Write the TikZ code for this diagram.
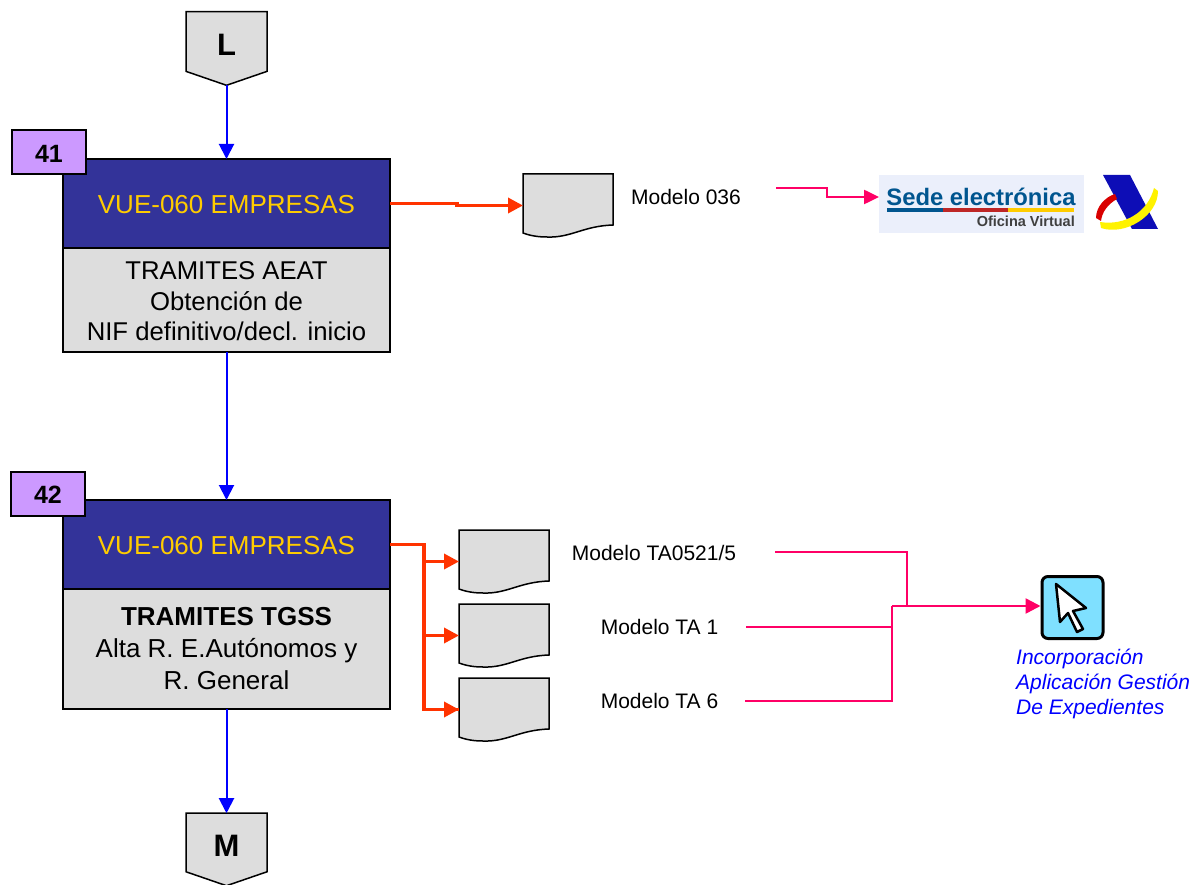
\documentclass[tikz,border=0pt]{standalone}
\usepackage{fontspec}
\setmainfont{Liberation Sans}
\usepackage{xcolor}
\usepackage{tikz}
\usetikzlibrary{shapes.symbols, positioning, arrows.meta}

\definecolor{navyhead}{HTML}{333399}
\definecolor{goldtext}{HTML}{FFCC00}
\definecolor{sheetgray}{HTML}{DDDDDD}
\definecolor{taglilac}{HTML}{CC99FF}
\definecolor{redline}{HTML}{FF3300}
\definecolor{pinkline}{HTML}{FF0066}
\definecolor{cursorcyan}{HTML}{7FE0FF}
\definecolor{logoblue}{HTML}{00558F}
\definecolor{logobg}{HTML}{EBEFFB}

\tikzset{
    headbox/.style={draw=black, line width=1.5pt, fill=navyhead, text=goldtext, minimum width=327pt, minimum height=89pt, outer sep=0pt, inner sep=0pt, font=\fontsize{26}{30}\selectfont},
    bodybox/.style={draw=black, line width=1.5pt, fill=sheetgray, minimum width=327pt, outer sep=0pt, inner sep=0pt, align=center},
    tagbox/.style={draw=black, line width=2pt, fill=taglilac, minimum width=74pt, minimum height=44pt, outer sep=0pt, inner sep=0pt, font=\fontsize{25}{30}\selectfont\bfseries},
    pagetag/.style={signal, signal to=south, signal pointer angle=142, draw=black, line width=1.5pt, fill=sheetgray, minimum width=81pt, minimum height=63pt, outer sep=0pt, inner sep=0pt, font=\fontsize{31}{36}\selectfont\bfseries},
    docnode/.style={minimum width=90pt, minimum height=63pt, outer sep=0pt, inner sep=0pt},
    docline/.style={draw=black, line width=1.5pt, fill=sheetgray},
    modelolabel/.style={font=\fontsize{21}{24}\selectfont, inner sep=0pt},
    blueflow/.style={draw=blue, line width=2pt, -{Triangle[length=15pt, width=15pt]}},
    redflow/.style={draw=redline, line width=3.5pt},
    pinkflow/.style={draw=pinkline, line width=2.5pt},
}

% moves a text down and leaves the size of its box as it was
\newcommand{\dropby}[2]{\raisebox{-#1}[\height][\depth]{#2}}

% one sheet symbol, the wavy edge is drawn from the node corners
\newcommand{\docsheet}[3]{
    \node[docnode] (#1) at (#2,#3) {};
    \draw[docline] (#1.north west) -- (#1.north east) -- ++(0,51)
        .. controls ++(-30,1) and ++(24,1) .. ++(-66,12)
        .. controls ++(-8,0) and ++(8,3) .. ++(-24,-4) -- cycle;
}

\begin{document}
\begin{tikzpicture}[x=1pt, y=-1pt]
    \useasboundingbox (0,0) rectangle (1194,885);

    % Page connector L
    \node[pagetag] (tagL) at (226.5,41.5) {\dropby{3pt}{L}};

    % Step 41
    \node[headbox] (head41) at (226.5,203.5) {\dropby{1pt}{VUE-060 EMPRESAS}};
    \node[bodybox, minimum height=104pt, below=0pt of head41, font=\fontsize{25.7}{30.5}\selectfont] (body41) {\dropby{1.5pt}{TRAMITES AEAT}\\\dropby{1.5pt}{Obtención de}\\\dropby{1.5pt}{NIF definitivo/decl. inicio}};
    \node[tagbox] (tag41) at (49,152) {\dropby{1.5pt}{41}};

    % Step 42
    \node[headbox] (head42) at (226.5,544.5) {\dropby{1.5pt}{VUE-060 EMPRESAS}};
    \node[bodybox, minimum height=120pt, below=0pt of head42, font=\fontsize{26}{32}\selectfont] (body42) {\textbf{TRAMITES TGSS}\\Alta R. E.Autónomos y\\R. General};
    \node[tagbox] (tag42) at (48,493.5) {\dropby{1pt}{42}};

    % Page connector M
    \node[pagetag] (tagM) at (226.5,842.5) {\dropby{3pt}{M}};

    % Main flow
    \draw[blueflow] (tagL.south) -- (head41.north);
    \draw[blueflow] (body41.south) -- (head42.north);
    \draw[blueflow] (body42.south) -- (tagM.north);

    % Sheets
    \docsheet{doc036}{568}{205.5}
    \docsheet{docTAa}{504}{561.5}
    \docsheet{docTAb}{504}{635.5}
    \docsheet{docTAc}{504}{709.5}

    % Red branches to the sheets
    \coordinate (redA) at (457,203.5);
    \coordinate (redB) at (424,544.5);
    \draw[redflow, -{Triangle[length=15pt, width=15pt]}] (head41.east) -- (redA) |- (doc036.west);
    \draw[redflow] (head42.east) -| (redB) |- (docTAc.west);
    \draw[redflow, -{Triangle[length=15pt, width=15pt]}] (redB |- docTAc.west) -- (docTAc.west);
    \draw[redflow, -{Triangle[length=15pt, width=15pt]}] (redB |- docTAb.west) -- (docTAb.west);
    \draw[redflow, -{Triangle[length=15pt, width=15pt]}] (redB |- docTAa.west) -- (docTAa.west);

    % Model labels
    \node[modelolabel] (lab036) at (686,196.5) {Modelo 036};
    \node[modelolabel] (labTAa) at (654,553) {Modelo TA0521/5};
    \node[modelolabel] (labTAb) at (659.5,627) {Modelo TA 1};
    \node[modelolabel] (labTAc) at (659.5,701) {Modelo TA 6};

    % Sede electronica logo
    \node[fill=logobg, minimum width=205pt, minimum height=58pt, outer sep=0pt, inner sep=0pt] (sedelogo) at (981.5,204) {};
    \node[text=logoblue, inner sep=0pt, font=\fontsize{23.8}{28}\selectfont\bfseries] (sedetext) at (981,197) {Sede electrónica};
    \node[text=black!75, anchor=east, inner sep=0pt, font=\fontsize{14.5}{16}\selectfont\bfseries] (sedeoficina) at (1075,221.5) {Oficina Virtual};
    \fill[logoblue] (887,208.5) rectangle (943,212);
    \fill[red!70!black!85] (943,208.5) rectangle (1008,212);
    \fill[goldtext] (1008,208.5) rectangle (1074,212);

    % AEAT emblem
    \fill[blue!70!black!95] (1103,175) -- (1130,175) -- (1158,229) -- (1132,229) -- cycle;
    \fill[red!85!black] (1115,194) .. controls (1105,197) and (1096,207) .. (1096,218) -- (1101,221) .. controls (1102,212) and (1108,204) .. (1117,199) -- cycle;
    \fill[yellow] (1100,222) .. controls (1125,226) and (1148,212) .. (1154,188) -- (1158,191) .. controls (1158,216) and (1125,236) .. (1101,228) -- cycle;

    % Cursor button
    \node[draw=black, line width=3pt, fill=cursorcyan, rounded corners=6pt, minimum width=61pt, minimum height=62pt, outer sep=1.5pt, inner sep=0pt] (cursorbtn) at (1072.5,607.5) {};
    \draw[black, fill=white, line width=2.5pt, line join=round] (1056,584) -- (1086,608) -- (1073,611) -- (1083,629) -- (1077,632) -- (1068,613) -- (1060,622) -- cycle;
    \node[text=blue, anchor=north west, align=left, inner sep=0pt, font=\fontsize{21}{25}\selectfont\itshape] (cursortext) at (1016,649) {Incorporación\\Aplicación Gestión\\De Expedientes};

    % Pink lines
    \coordinate (pink036) at (776,188);
    \coordinate (sedein) at (sedelogo.west |- 0,197);
    \coordinate (pinkTAa) at (775,552);
    \coordinate (pinkTAb) at (746,627);
    \coordinate (pinkTAc) at (745,701);
    \coordinate (pinkJoin) at (892,606);
    \draw[pinkflow, -{Triangle[length=15pt, width=14pt]}] (pink036) -- (827,188) -- (827,197) -- (sedein);
    \draw[pinkflow, -{Triangle[length=15pt, width=15pt]}] (pinkTAa) -| (907,606) -- (cursorbtn.west |- pinkJoin);
    \draw[pinkflow] (pinkJoin) -- (907,606);
    \draw[pinkflow] (pinkTAb) -| (pinkJoin);
    \draw[pinkflow] (pinkTAc) -| (pinkJoin);

\end{tikzpicture}
\end{document}
